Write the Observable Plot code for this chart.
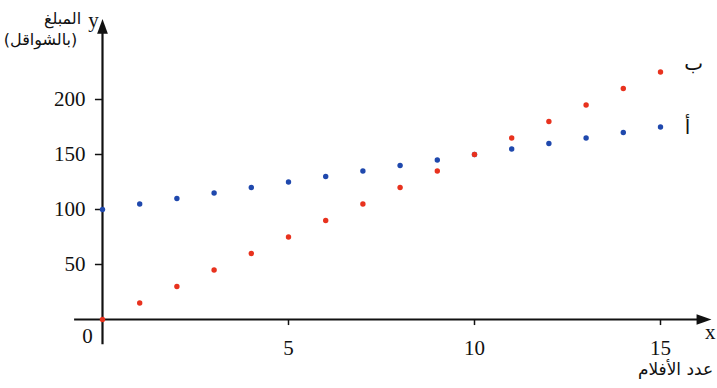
<!DOCTYPE html>
<html><head><meta charset="utf-8">
<script src="https://cdn.jsdelivr.net/npm/d3@7"></script>
<script src="https://cdn.jsdelivr.net/npm/@observablehq/plot@0.6"></script>
<style>body{margin:0;background:#fff;} svg{display:block;}</style>
</head><body><div id="chart"></div>
<script>
const films = [0,1,2,3,4,5,6,7,8,9,10,11,12,13,14,15];
const seriesA = [100,105,110,115,120,125,130,135,140,145,150,155,160,165,170,175]; // أ
const seriesB = [0,15,30,45,60,75,90,105,120,135,150,165,180,195,210,225];       // ب
const xTicks = [5,10,15];
const yTicks = [50,100,150,200];

const data = [
  ...films.map((x,i)=>({x, y: seriesA[i], s:"أ"})),
  ...films.map((x,i)=>({x, y: seriesB[i], s:"ب"}))
];

const arrowHead = { draw(ctx, size){ const l=Math.sqrt(size)*1.4, w=l*0.36; ctx.moveTo(l*0.5,0); ctx.lineTo(-l*0.5,-w); ctx.lineTo(-l*0.5,w); ctx.closePath(); } };
const serif = "'Liberation Serif', 'Times New Roman', serif";
const arab = "'DejaVu Sans', Arial, sans-serif";

const chart = Plot.plot({
  width: 717, height: 388,
  margin: 0,
  style: {fontFamily: serif, fontSize: "21px", background: "#fff"},
  x: {type:"linear", domain:[0,15], range:[102,660], axis:null},
  y: {type:"linear", domain:[0,200], range:[319,99], axis:null},
  color: {domain:["أ","ب"], range:["#1f48ad","#e8321e"]},
  marks: [
    Plot.ruleY([0], {x1:-0.75, x2:16.1, stroke:"#111", strokeWidth:2.2}),
    Plot.ruleX([0], {y1:-23, y2:262, stroke:"#111", strokeWidth:2.2}),
    Plot.dot([{x:16.17,y:0}], {x:"x", y:"y", symbol: arrowHead, r:6, fill:"#111", stroke:null}),
    Plot.dot([{x:0,y:266.5}], {x:"x", y:"y", symbol: arrowHead, r:6, rotate:-90, fill:"#111", stroke:null}),
    Plot.ruleX(xTicks, {x: d=>d, y1: 0, y2: -5.5, stroke:"#111", strokeWidth:1.5}),
    Plot.ruleY(yTicks, {y: d=>d, x1: -0.19, x2: 0, stroke:"#111", strokeWidth:1.5}),
    Plot.text(xTicks, {x:d=>d, y:()=>0, text:d=>String(d), dy:29, fontSize:21, fontFamily:serif, fill:"#111"}),
    Plot.text([0], {x:d=>d, y:d=>d, text:d=>String(d), dx:-15, dy:17, fontSize:21, fontFamily:serif, fill:"#111"}),
    Plot.text(yTicks, {y:d=>d, x:()=>0, text:d=>String(d), dx:-17, textAnchor:"end", fontSize:21, fontFamily:serif, fill:"#111"}),
    Plot.dot(data, {x:"x", y:"y", fill:"s", r:2.7, stroke:null}),
    Plot.text([{x:16.34, y:0, t:"x"}], {x:"x", y:"y", text:"t", dy:13, fontSize:21, fontFamily:serif, fill:"#111"}),
    Plot.text([{x:0, y:270, t:"y"}], {x:"x", y:"y", text:"t", dx:-9, dy:-2, fontSize:21, fontFamily:serif, fill:"#111"}),
    Plot.text([{x:0, y:273.6, t:"المبلغ"}], {x:"x", y:"y", text:"t", dx:-40, fontSize:16, fontFamily:arab, fill:"#111"}),
    Plot.text([{x:0, y:254.5, t:"(بالشواقل)"}], {x:"x", y:"y", text:"t", dx:-62, fontSize:16, fontFamily:arab, fill:"#111"}),
    Plot.text([{x:15, y:0, t:"عدد الأفلام"}], {x:"x", y:"y", text:"t", dx:15, dy:50, fontSize:17, fontFamily:arab, fill:"#111"}),
    Plot.text([{x:15.89, y:232.7, t:"ب"}], {x:"x", y:"y", text:"t", fontSize:20, fontFamily:arab, fill:"#111"}),
    Plot.text([{x:15.73, y:174.5, t:"أ"}], {x:"x", y:"y", text:"t", fontSize:20, fontFamily:arab, fill:"#111"})
  ]
});
document.getElementById("chart").append(chart);
</script></body></html>
